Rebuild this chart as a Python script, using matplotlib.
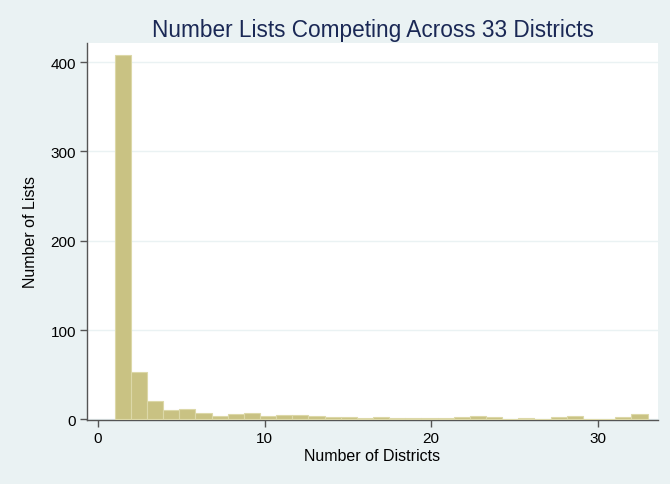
import numpy as np
import matplotlib
matplotlib.use("Agg")
import matplotlib.pyplot as plt

plt.rcParams['font.family'] = ['Liberation Sans', 'DejaVu Sans']

# Histogram data: 33 bins spanning 1..33 districts
bin_start = 1
bin_end = 33
counts = [408, 53, 20, 10, 12, 7, 4, 6, 7, 4, 5, 5, 4, 3, 3, 2, 3, 1,
          2, 2, 2, 3, 4, 3, 0, 2, 0, 3, 4, 0, 0, 3, 6]
x_ticks = [0, 10, 20, 30]
y_ticks = [0, 100, 200, 300, 400]
title = "Number Lists Competing Across 33 Districts"
xlabel = "Number of Districts"
ylabel = "Number of Lists"

edges = np.linspace(bin_start, bin_end, len(counts) + 1)
width = edges[1] - edges[0]

bg = "#EAF2F3"
fig = plt.figure(figsize=(6.7, 4.85), dpi=100, facecolor=bg)
ax = fig.add_axes([87/670, 1 - 421/485, (658-87)/670, (421-44)/485])
ax.set_facecolor("white")

ax.bar(edges[:-1], counts, width=width, align='edge',
       color="#C9C283", edgecolor="#DCD8A8", linewidth=0.8, zorder=3)

ax.set_xlim(-0.66, 33.63)
ax.set_ylim(-0.8, 421.5)
ax.set_xticks(x_ticks)
ax.set_yticks(y_ticks)
ax.yaxis.grid(True, color=bg, linewidth=1.0, zorder=0)
ax.set_axisbelow(True)

for s in ["top", "right"]:
    ax.spines[s].set_visible(False)
for s in ["left", "bottom"]:
    ax.spines[s].set_color("#555555")
    ax.spines[s].set_linewidth(1.0)
ax.tick_params(axis='both', direction='out', length=5, width=1.0,
               color="#555555", labelsize=11, labelcolor="black", pad=3)

ax.set_title(title, fontsize=16.3, color="#1A2855", pad=5)
ax.set_xlabel(xlabel, fontsize=11.5, labelpad=2)
ax.set_ylabel(ylabel, fontsize=11.5, labelpad=9)

fig.savefig("out.png", dpi=100, facecolor=bg)
